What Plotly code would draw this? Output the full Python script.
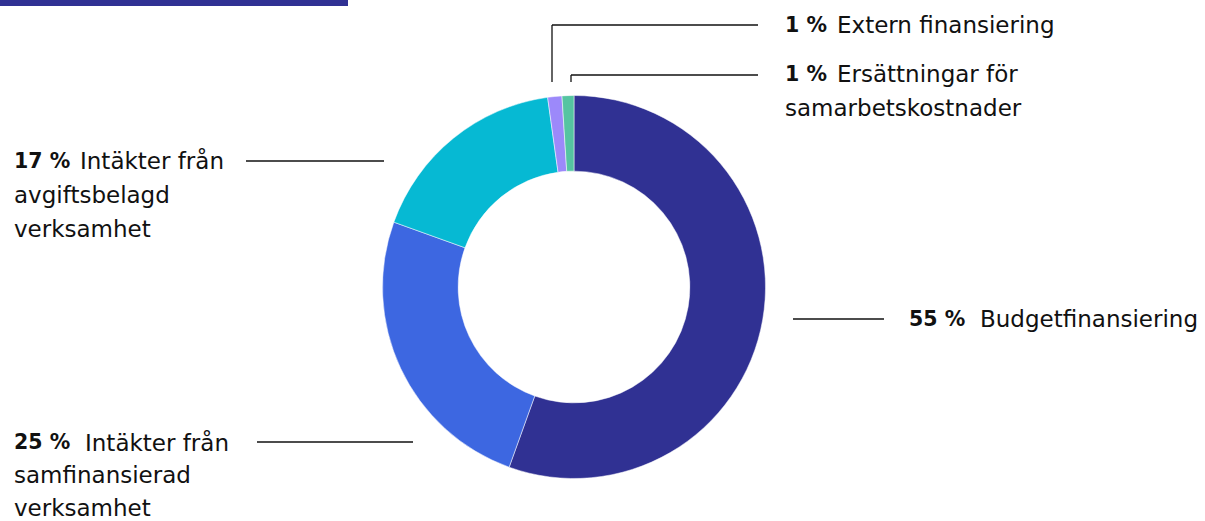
import plotly.graph_objects as go

W, H = 1205, 521

# Data
labels = ["Budgetfinansiering", "Intäkter från samfinansierad verksamhet",
          "Intäkter från avgiftsbelagd verksamhet", "Extern finansiering",
          "Ersättningar för samarbetskostnader"]
values = [55.5, 25.0, 17.3, 1.2, 1.0]
pct_text = ["55 %", "25 %", "17 %", "1 %", "1 %"]
colors = ["#303193", "#3D67E1", "#06B9D3", "#9C89FA", "#55C4A1"]

label_lines = {
    0: ["Budgetfinansiering"],
    1: ["Intäkter från", "samfinansierad", "verksamhet"],
    2: ["Intäkter från", "avgiftsbelagd", "verksamhet"],
    3: ["Extern finansiering"],
    4: ["Ersättningar för", "samarbetskostnader"],
}

def px(x):
    return x / W

def py(y):
    return 1 - y / H

cx, cy, r = 574, 287, 191.5

fig = go.Figure()
fig.add_trace(go.Pie(
    labels=labels, values=values, sort=False, direction="clockwise", rotation=0,
    hole=0.605, textinfo="none",
    marker=dict(colors=colors, line=dict(color="white", width=0.5)),
    domain=dict(x=[px(cx - r), px(cx + r)], y=[py(cy + r), py(cy - r)]),
    showlegend=False,
))

FONT = "DejaVu Sans"
FS_PCT = 20.5
FS_TXT = 23
# (pct left x, first-line text left x, first line center y, line height) per slice
anchors = {0: (907, 978, 319, 34), 1: (12, 83, 442, 33), 2: (12, 78, 161, 34),
           3: (783, 835, 25, 34), 4: (783, 835, 74, 34)}

ann = []
for i, lines in label_lines.items():
    xp, xt, y0, lh = anchors[i]
    ann.append(dict(x=px(xp), y=py(y0), xref="paper", yref="paper",
                    text=f"<b>{pct_text[i]}</b>", showarrow=False,
                    xanchor="left", yanchor="middle",
                    font=dict(family=FONT, size=FS_PCT, color="#111111")))
    for k, line in enumerate(lines):
        ann.append(dict(x=px(xt if k == 0 else xp), y=py(y0 + k * lh),
                        xref="paper", yref="paper",
                        text=line, showarrow=False, xanchor="left", yanchor="middle",
                        font=dict(family=FONT, size=FS_TXT, color="#111111")))

shapes = []
def seg(x0, y0, x1, y1):
    shapes.append(dict(type="line", xref="paper", yref="paper",
                       x0=px(x0), y0=py(y0), x1=px(x1), y1=py(y1),
                       line=dict(color="#111111", width=1.3)))

# leader lines
seg(793, 319, 884, 319)
seg(257, 442, 413, 442)
seg(246, 161, 384, 161)
seg(552, 82, 552, 25); seg(552, 25, 758, 25)
seg(571, 82, 571, 75); seg(571, 75, 758, 75)

# header bar
shapes.append(dict(type="rect", xref="paper", yref="paper",
                   x0=px(-5), y0=py(6), x1=px(348), y1=py(-5),
                   fillcolor="#303193", line=dict(width=0)))

fig.update_layout(width=W, height=H, margin=dict(l=0, r=0, t=0, b=0),
                  paper_bgcolor="white", plot_bgcolor="white",
                  annotations=ann, shapes=shapes)

fig.write_html("out.html")
